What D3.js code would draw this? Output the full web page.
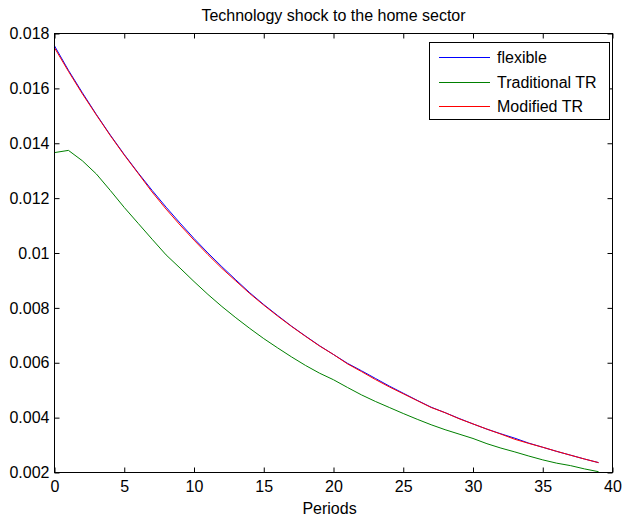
<!DOCTYPE html>
<html>
<head>
<meta charset="utf-8">
<script src="https://cdn.jsdelivr.net/npm/d3@7"></script>
<style>
  html, body { margin: 0; padding: 0; background: #fff; }
  svg { display: block; font-family: "Liberation Sans", Arial, sans-serif; }
</style>
</head>
<body>
<svg id="chart" width="623" height="525"></svg>
<script>
// Impulse responses over 40 periods
const periods = d3.range(0, 40);
const flexible = [
  0.01755, 0.01666, 0.01584, 0.01505, 0.01430, 0.01359, 0.01292, 0.01228, 0.01167, 0.01109,
  0.01053, 0.01000, 0.00950, 0.00902, 0.00855, 0.00812, 0.00772, 0.00733, 0.00697, 0.00662,
  0.00630, 0.00598, 0.00571, 0.00543, 0.00515, 0.00489, 0.00463, 0.00438, 0.00418, 0.00397,
  0.00377, 0.00358, 0.00341, 0.00325, 0.00307, 0.00292, 0.00277, 0.00263, 0.00249, 0.00236
];
const traditionalTR = [
  0.01366, 0.01374, 0.01336, 0.01288, 0.01228, 0.01166, 0.01108, 0.01050, 0.00993, 0.00945,
  0.00896, 0.00849, 0.00805, 0.00764, 0.00725, 0.00688, 0.00654, 0.00621, 0.00590, 0.00562,
  0.00538, 0.00510, 0.00483, 0.00459, 0.00437, 0.00415, 0.00394, 0.00374, 0.00356, 0.00340,
  0.00324, 0.00305, 0.00289, 0.00275, 0.00260, 0.00246, 0.00234, 0.00225, 0.00213, 0.00203
];
const modifiedTR = [
  0.01748, 0.01662, 0.01580, 0.01503, 0.01428, 0.01357, 0.01290, 0.01222, 0.01160, 0.01102,
  0.01047, 0.00994, 0.00944, 0.00898, 0.00852, 0.00810, 0.00770, 0.00732, 0.00696, 0.00661,
  0.00630, 0.00596, 0.00568, 0.00539, 0.00512, 0.00487, 0.00462, 0.00437, 0.00418, 0.00396,
  0.00377, 0.00358, 0.00340, 0.00321, 0.00306, 0.00292, 0.00277, 0.00263, 0.00249, 0.00236
];
const xTicks = [0, 5, 10, 15, 20, 25, 30, 35, 40];
const yTicks = [0.002, 0.004, 0.006, 0.008, 0.01, 0.012, 0.014, 0.016, 0.018];
const yTickLabels = ["0.002", "0.004", "0.006", "0.008", "0.01", "0.012", "0.014", "0.016", "0.018"];
const seriesNames = ["flexible", "Traditional TR", "Modified TR"];
const seriesColors = ["#0000ff", "#008000", "#ff0000"];

const svg = d3.select("#chart");
const m = { left: 54.5, right: 612.5, top: 33.5, bottom: 472.5 };
const x = d3.scaleLinear().domain([0, 40]).range([m.left, m.right]);
const y = d3.scaleLinear().domain([0.002, 0.018]).range([m.bottom, m.top]);

const fontSize = 16;
const tickLen = 5;

// ticks on all four sides, pointing inward
const axisBottom = d3.axisBottom(x).tickValues(xTicks).tickSize(tickLen).tickFormat(d3.format("d"));
const axisTop = d3.axisTop(x).tickValues(xTicks).tickSize(tickLen).tickFormat("");
const axisLeft = d3.axisLeft(y).tickValues(yTicks).tickSize(tickLen)
  .tickFormat((d, i) => yTickLabels[i]);
const axisRight = d3.axisRight(y).tickValues(yTicks).tickSize(tickLen).tickFormat("");

function styleAxis(g, inwardSign, dir) {
  g.select(".domain").remove();
  g.selectAll(".tick line").attr("stroke", "#000")
    .attr(dir, inwardSign * tickLen);
  g.selectAll(".tick text").attr("fill", "#000").attr("font-size", fontSize)
    .attr("font-family", "'Liberation Sans', Arial, sans-serif");
}

const gb = svg.append("g").attr("transform", `translate(0,${m.bottom})`).call(axisBottom);
styleAxis(gb, -1, "y2");
gb.selectAll(".tick text").attr("y", 8).attr("dy", "0.71em");

const gt = svg.append("g").attr("transform", `translate(0,${m.top})`).call(axisTop);
styleAxis(gt, 1, "y2");

const gl = svg.append("g").attr("transform", `translate(${m.left},0)`).call(axisLeft);
styleAxis(gl, 1, "x2");
gl.selectAll(".tick text").attr("x", -5);

const gr = svg.append("g").attr("transform", `translate(${m.right},0)`).call(axisRight);
styleAxis(gr, -1, "x2");

// lines
const line = d3.line().x((d, i) => x(periods[i])).y(d => y(d));
const allSeries = [flexible, traditionalTR, modifiedTR];
allSeries.forEach((s, k) => {
  svg.append("path").datum(s)
    .attr("fill", "none")
    .attr("stroke", seriesColors[k])
    .attr("stroke-width", 1)
    .attr("d", line);
});

// plot box
svg.append("rect")
  .attr("x", m.left).attr("y", m.top)
  .attr("width", m.right - m.left).attr("height", m.bottom - m.top)
  .attr("fill", "none").attr("stroke", "#000").attr("stroke-width", 1);

// title and axis label
svg.append("text")
  .attr("x", (m.left + m.right) / 2).attr("y", 21)
  .attr("text-anchor", "middle").attr("font-size", fontSize).attr("fill", "#000")
  .text("Technology shock to the home sector");

svg.append("text")
  .attr("x", (m.left + m.right) / 2 - 4).attr("y", 514)
  .attr("text-anchor", "middle").attr("font-size", fontSize).attr("fill", "#000")
  .text("Periods");

// legend
const lg = svg.append("g");
lg.append("rect")
  .attr("x", 429.5).attr("y", 42.5).attr("width", 180).attr("height", 77)
  .attr("fill", "#fff").attr("stroke", "#000").attr("stroke-width", 1);
const rowY = [57, 82, 106];
seriesNames.forEach((name, k) => {
  lg.append("line")
    .attr("x1", 439).attr("x2", 490)
    .attr("y1", rowY[k] + 0.5).attr("y2", rowY[k] + 0.5)
    .attr("stroke", seriesColors[k]).attr("stroke-width", 1);
  lg.append("text")
    .attr("x", 497).attr("y", rowY[k]).attr("dy", "0.35em")
    .attr("font-size", fontSize).attr("fill", "#000")
    .text(name);
});
</script>
</body>
</html>
